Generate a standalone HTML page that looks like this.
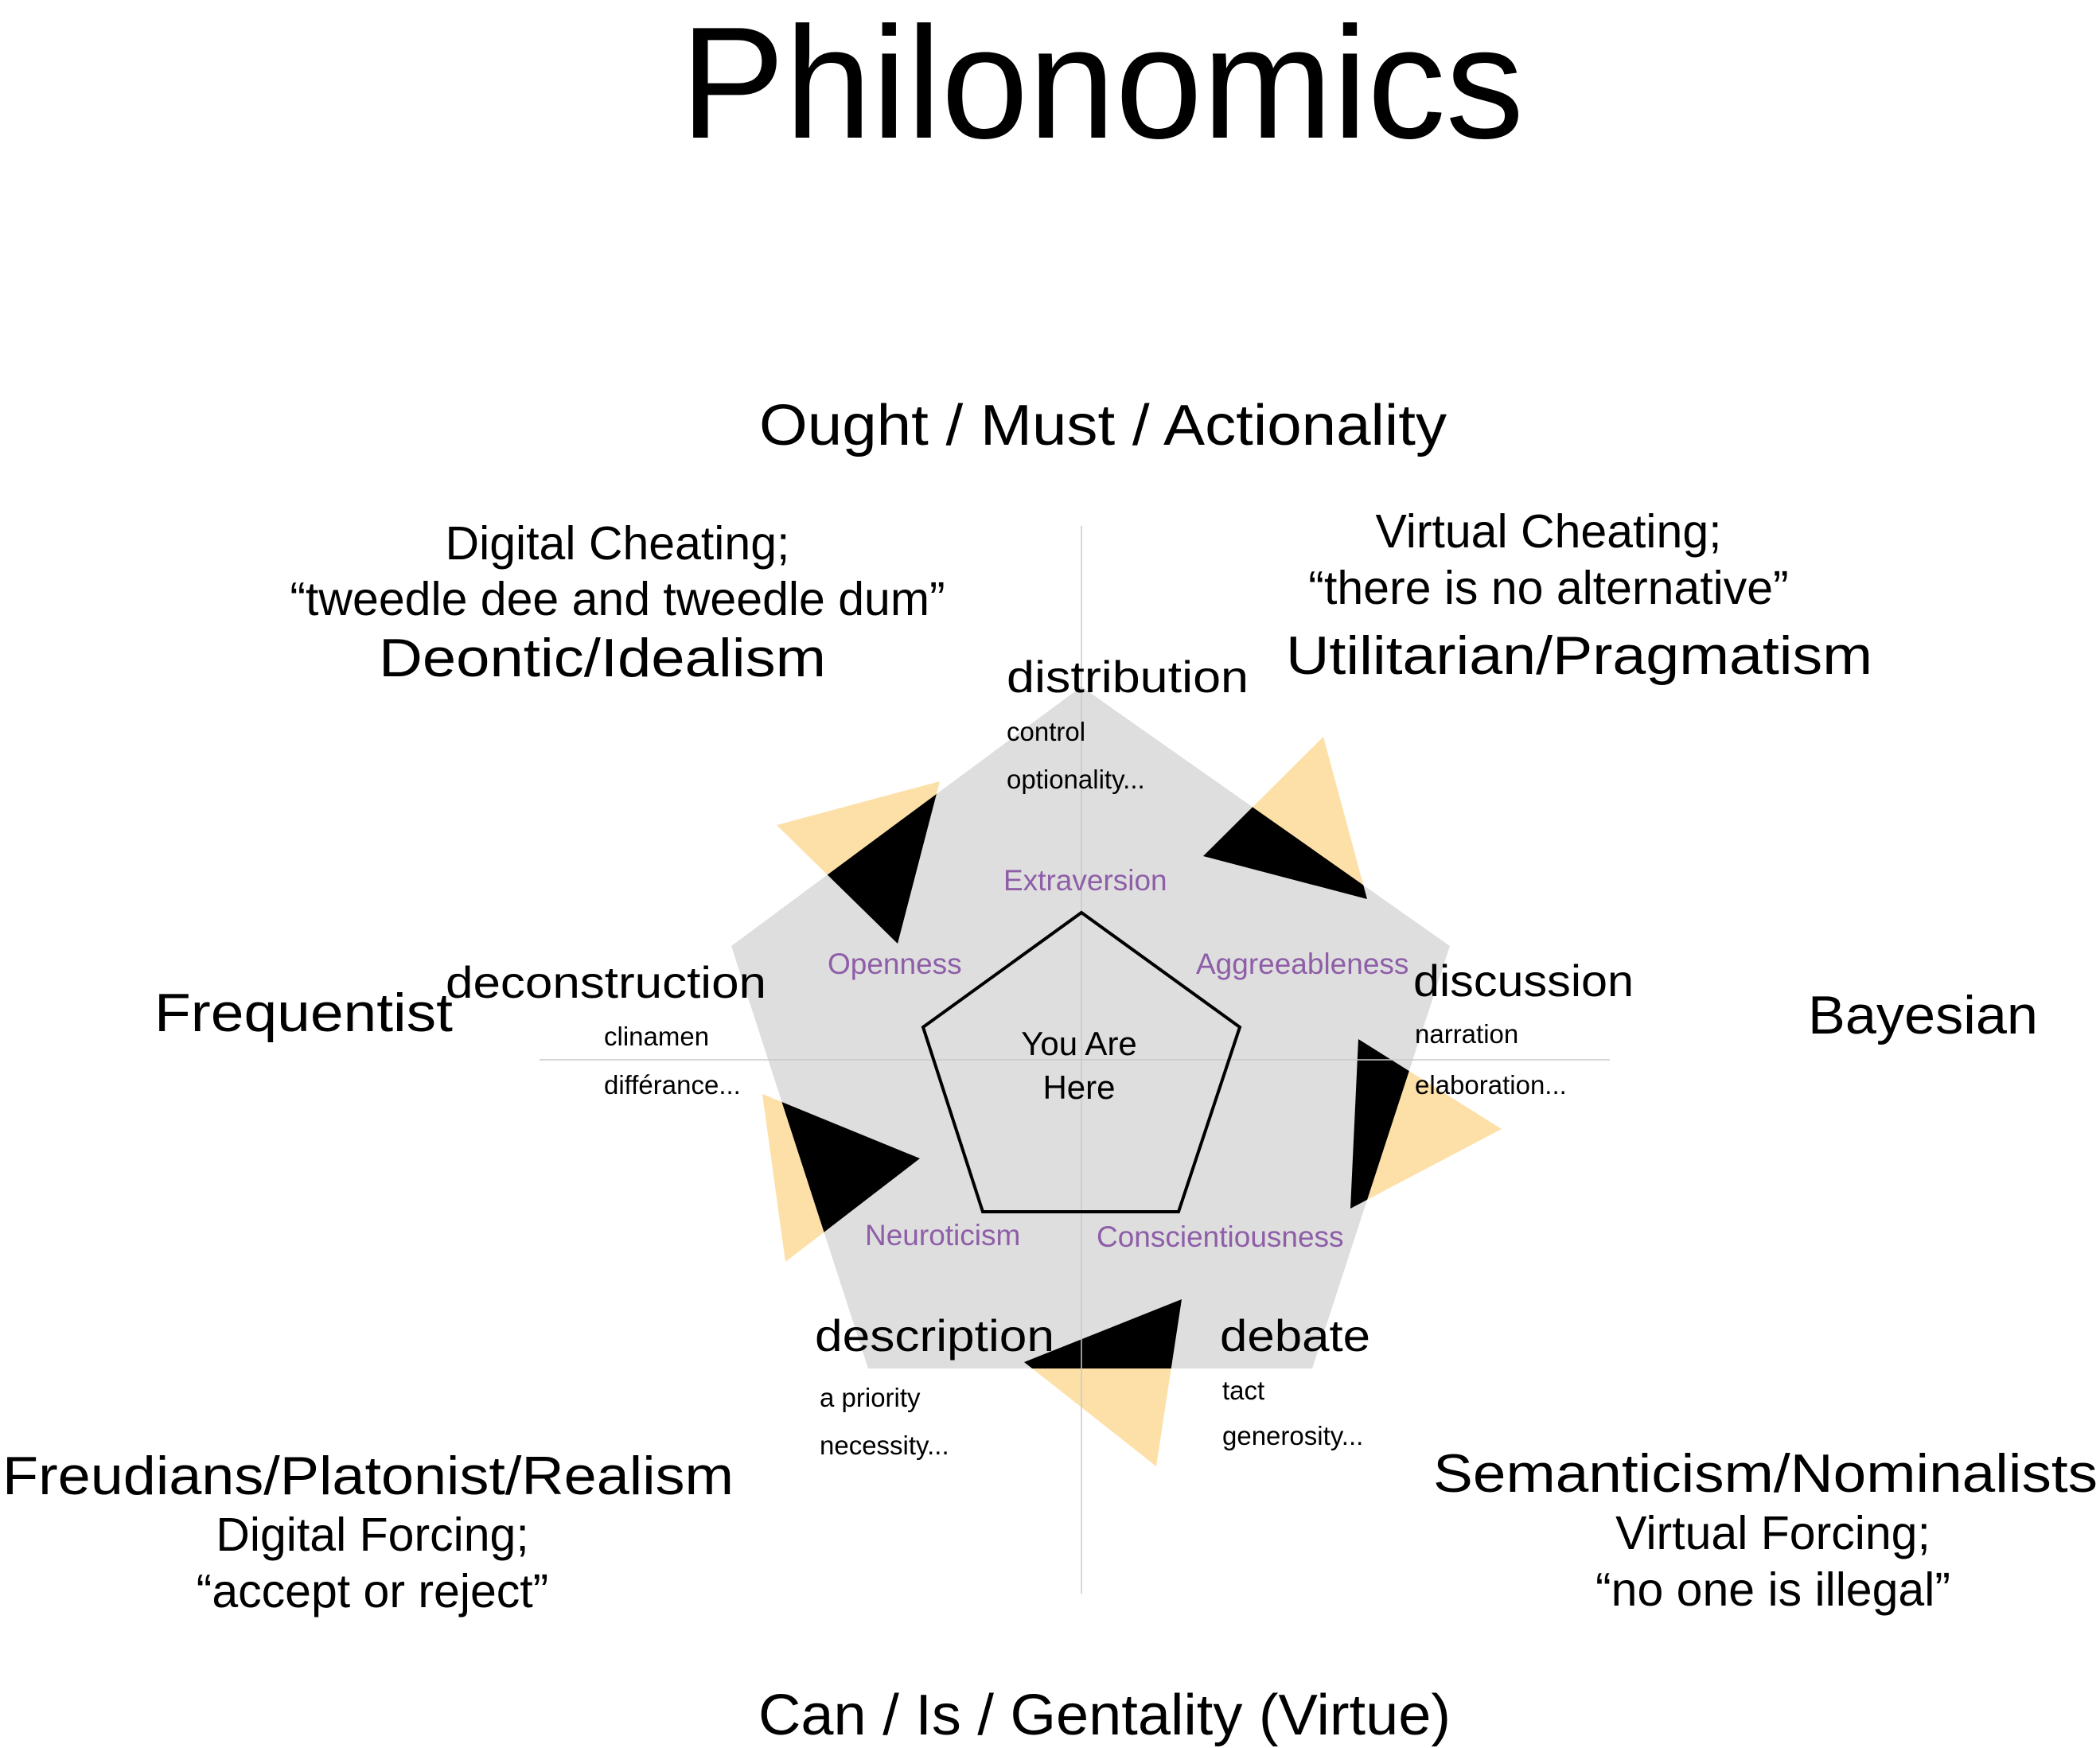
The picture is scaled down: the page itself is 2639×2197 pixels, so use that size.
<!DOCTYPE html>
<html><head><meta charset="utf-8"><style>
html,body{margin:0;padding:0;background:#fff;}
svg{display:block;}
text{font-family:"Liberation Sans",sans-serif;fill:#000;}
.p{fill:#8e5ea8;}
</style></head><body>
<svg width="2639" height="2197" viewBox="0 0 2639 2197" xmlns="http://www.w3.org/2000/svg">
<defs>
<clipPath id="pc"><polygon points="1359,863 1822,1189 1649,1720 1091,1720 919,1189"/></clipPath>
</defs>
<polygon points="1359,863 1822,1189 1649,1720 1091,1720 919,1189" fill="#dedede"/>
<g fill="#fde0a8">
<polygon points="976,1037 1181,982 1128,1186"/>
<polygon points="1663,926 1718,1130 1512,1076"/>
<polygon points="1887,1419 1697,1519 1707,1306"/>
<polygon points="958,1375 987,1586 1156,1456"/>
<polygon points="1287,1712 1485,1633 1453,1843"/>
</g>
<g fill="#000" clip-path="url(#pc)">
<polygon points="976,1037 1181,982 1128,1186"/>
<polygon points="1663,926 1718,1130 1512,1076"/>
<polygon points="1887,1419 1697,1519 1707,1306"/>
<polygon points="958,1375 987,1586 1156,1456"/>
<polygon points="1287,1712 1485,1633 1453,1843"/>
</g>
<line x1="1359" y1="661" x2="1359" y2="2003" stroke="#c8c8c8" stroke-width="1.5"/>
<line x1="678" y1="1332" x2="2023" y2="1332" stroke="#c8c8c8" stroke-width="1.5"/>
<polygon points="1359,1147 1558,1291 1481,1523 1235,1523 1160,1291" fill="none" stroke="#000" stroke-width="4"/>

<text x="855" y="173" font-size="200" textLength="1060" lengthAdjust="spacingAndGlyphs">Philonomics</text>
<text x="954" y="559" font-size="72" textLength="864" lengthAdjust="spacingAndGlyphs">Ought / Must / Actionality</text>
<text x="953" y="2180" font-size="72" textLength="870" lengthAdjust="spacingAndGlyphs">Can / Is / Gentality (Virtue)</text>

<g text-anchor="middle" font-size="59">
<text x="776" y="703">Digital Cheating;</text>
<text x="776" y="773">“tweedle dee and tweedle dum”</text>
<text x="1946" y="688">Virtual Cheating;</text>
<text x="1946" y="759">“there is no alternative”</text>
<text x="468" y="1949">Digital Forcing;</text>
<text x="468" y="2020">“accept or reject”</text>
<text x="2228" y="1947">Virtual Forcing;</text>
<text x="2228" y="2018">“no one is illegal”</text>
</g>
<g font-size="68">
<text x="476" y="850" textLength="562" lengthAdjust="spacingAndGlyphs">Deontic/Idealism</text>
<text x="1616" y="847" textLength="737" lengthAdjust="spacingAndGlyphs">Utilitarian/Pragmatism</text>
<text x="194" y="1296" textLength="375" lengthAdjust="spacingAndGlyphs">Frequentist</text>
<text x="2272" y="1299" textLength="289" lengthAdjust="spacingAndGlyphs">Bayesian</text>
<text x="3" y="1878" textLength="919" lengthAdjust="spacingAndGlyphs">Freudians/Platonist/Realism</text>
<text x="1801" y="1875" textLength="835" lengthAdjust="spacingAndGlyphs">Semanticism/Nominalists</text>
</g>
<g font-size="56">
<text x="1265" y="870" textLength="304" lengthAdjust="spacingAndGlyphs">distribution</text>
<text x="560" y="1254" textLength="403" lengthAdjust="spacingAndGlyphs">deconstruction</text>
<text x="1776" y="1252" textLength="277" lengthAdjust="spacingAndGlyphs">discussion</text>
<text x="1024" y="1698" textLength="301" lengthAdjust="spacingAndGlyphs">description</text>
<text x="1533" y="1698" textLength="189" lengthAdjust="spacingAndGlyphs">debate</text>
</g>
<g font-size="33">
<text x="1265" y="931">control</text>
<text x="1265" y="991">optionality...</text>
<text x="759" y="1314">clinamen</text>
<text x="759" y="1375">différance...</text>
<text x="1778" y="1311">narration</text>
<text x="1778" y="1375">elaboration...</text>
<text x="1030" y="1768">a priority</text>
<text x="1030" y="1828">necessity...</text>
<text x="1536" y="1759">tact</text>
<text x="1536" y="1816">generosity...</text>
</g>
<g font-size="37">
<text class="p" x="1261" y="1119">Extraversion</text>
<text class="p" x="1040" y="1224">Openness</text>
<text class="p" x="1503" y="1224">Aggreeableness</text>
<text class="p" x="1087" y="1565">Neuroticism</text>
<text class="p" x="1378" y="1567">Conscientiousness</text>
</g>
<g text-anchor="middle" font-size="42">
<text x="1356" y="1326">You Are</text>
<text x="1356" y="1381">Here</text>
</g>
</svg>
</body></html>
